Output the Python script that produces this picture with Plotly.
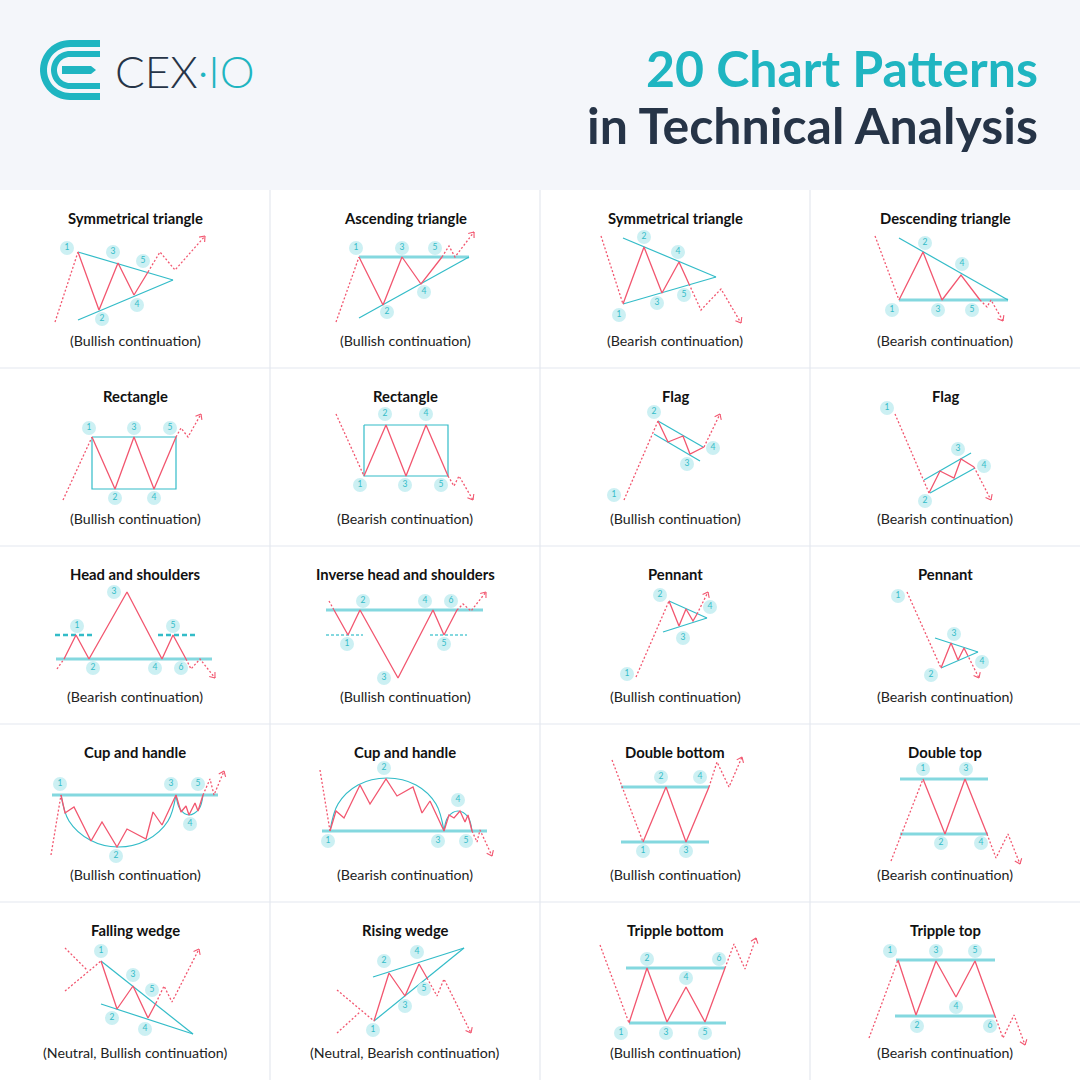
import numpy as np
import plotly.graph_objects as go

# colours
RED = "#f2566f"
CYAN = "#33bcc8"
CYAN_LIGHT = "#84d8df"
BUBBLE = "#ccf0f3"
TEAL = "#1fb5c1"
NAVY = "#263447"
GRID = "#e4e8ef"
HEADER_BG = "#f4f6fa"

W, H = 1080, 1080
HEADER_H = 190
CELL_W, CELL_H = 270, 178
FONT = "Lato"

TITLES = ["Symmetrical triangle", "Ascending triangle", "Symmetrical triangle", "Descending triangle",
          "Rectangle", "Rectangle", "Flag", "Flag",
          "Head and shoulders", "Inverse head and shoulders", "Pennant", "Pennant",
          "Cup and handle", "Cup and handle", "Double bottom", "Double top",
          "Falling wedge", "Rising wedge", "Tripple bottom", "Tripple top"]
CAPTIONS = ["(Bullish continuation)", "(Bullish continuation)", "(Bearish continuation)", "(Bearish continuation)",
            "(Bullish continuation)", "(Bearish continuation)", "(Bullish continuation)", "(Bearish continuation)",
            "(Bearish continuation)", "(Bullish continuation)", "(Bullish continuation)", "(Bearish continuation)",
            "(Bullish continuation)", "(Bearish continuation)", "(Bullish continuation)", "(Bearish continuation)",
            "(Neutral, Bullish continuation)", "(Neutral, Bearish continuation)", "(Bullish continuation)",
            "(Bearish continuation)"]

# --- pattern points, pixels inside each cell (0,0 = cell top-left) ---
# lead = dotted move in, zig = the pattern, tail = dotted breakout (arrow at end)
# thin = thin cyan guides, thick = wide pale cyan levels, dash = dashed levels, arcs = curved guides

# 1 symmetrical triangle (bullish)
P01_LEAD = [[(55, 132), (78, 62)]]
P01_ZIG = [(78, 62), (99, 120), (118, 73), (134, 105), (148, 82)]
P01_TAIL = [(148, 82), (160, 62), (175, 80), (205, 46)]
P01_THIN = [[(78, 62), (173, 90)], [(78, 130), (173, 90)]]
P01_LABELS = [("1", 67, 58), ("3", 113, 62), ("5", 143, 71), ("2", 102, 129), ("4", 137, 115)]

# 2 ascending triangle
P02_LEAD = [[(66, 132), (89, 67)]]
P02_ZIG = [(89, 67), (113, 115), (132, 67), (151, 94), (172, 67)]
P02_TAIL = [(172, 67), (179, 56), (185, 67), (204, 42)]
P02_THIN = [[(89, 128), (199, 67)]]
P02_THICK = [[(89, 67), (199, 67)]]
P02_LABELS = [("1", 86, 58), ("3", 132, 58), ("5", 165, 58), ("2", 117, 122), ("4", 154, 102)]

# 3 symmetrical triangle (bearish)
P03_LEAD = [[(61, 46), (83, 114)]]
P03_ZIG = [(83, 114), (104, 57), (122, 103), (139, 72), (149, 94)]
P03_TAIL = [(149, 94), (161, 120), (181, 99), (201, 133)]
P03_THIN = [[(83, 48), (176, 87)], [(83, 114), (176, 87)]]
P03_LABELS = [("2", 104, 47), ("4", 138, 62), ("3", 117, 113), ("5", 144, 105), ("1", 79, 125)]

# 4 descending triangle
P04_LEAD = [[(65, 46), (89, 110)]]
P04_ZIG = [(89, 110), (113, 62), (132, 110), (151, 85), (170, 110)]
P04_TAIL = [(170, 110), (177, 117), (181, 110), (193, 131)]
P04_THIN = [[(89, 48), (198, 110)]]
P04_THICK = [[(89, 110), (198, 110)]]
P04_LABELS = [("2", 115, 53), ("4", 152, 74), ("1", 82, 120), ("3", 128, 120), ("5", 162, 120)]

# 5 rectangle (bullish)
P05_LEAD = [[(63, 132), (92, 69)]]
P05_ZIG = [(92, 69), (115, 121), (134, 69), (154, 121), (176, 69)]
P05_TAIL = [(176, 69), (181, 60), (188, 69), (201, 46)]
P05_THIN = [[(92, 69), (176, 69), (176, 121), (92, 121), (92, 69)]]
P05_LABELS = [("1", 89, 60), ("3", 134, 60), ("5", 170, 60), ("2", 115, 130), ("4", 154, 130)]

# 6 rectangle (bearish)
P06_LEAD = [[(66, 46), (94, 108)]]
P06_ZIG = [(94, 108), (116, 57), (136, 108), (156, 57), (178, 108)]
P06_TAIL = [(178, 108), (184, 118), (189, 108), (203, 132)]
P06_THIN = [[(94, 57), (178, 57), (178, 108), (94, 108), (94, 57)]]
P06_LABELS = [("2", 115, 46), ("4", 156, 46), ("1", 90, 117), ("3", 135, 117), ("5", 171, 117)]

# 7 flag (bullish)
P07_LEAD = [[(84, 132), (118, 53)]]
P07_ZIG = [(118, 53), (128, 74), (143, 68), (150, 86), (164, 79)]
P07_TAIL = [(164, 79), (180, 46)]
P07_THIN = [[(118, 53), (163, 79)], [(114, 66), (160, 93)]]
P07_LABELS = [("2", 114, 44), ("4", 173, 80), ("3", 147, 96), ("1", 74, 127)]

# 8 flag (bearish)
P08_LEAD = [[(85, 46), (119, 125)]]
P08_ZIG = [(119, 125), (130, 103), (144, 110), (151, 91), (164, 99)]
P08_TAIL = [(164, 99), (181, 132)]
P08_THIN = [[(114, 112), (161, 85)], [(120, 125), (165, 100)]]
P08_LABELS = [("1", 77, 40), ("3", 148, 81), ("4", 174, 98), ("2", 115, 133)]

# 9 head and shoulders
P09_LEAD = [[(57, 123), (64, 113)]]
P09_ZIG = [(64, 113), (76, 89), (89, 113), (127, 46), (162, 113), (173, 89), (186, 113)]
P09_TAIL = [(186, 113), (191, 123), (200, 113), (215, 132)]
P09_THICK = [[(56, 113), (212, 113)]]
P09_DASH = [[(55, 89), (93, 89)], [(158, 89), (196, 89)]]
P09_LABELS = [("1", 77, 80), ("5", 173, 80), ("3", 114, 46), ("2", 93, 122), ("4", 155, 122), ("6", 181, 122)]

# 10 inverse head and shoulders
P10_LEAD = [[(59, 55), (64, 64)]]
P10_ZIG = [(64, 64), (78, 89), (90, 64), (128, 132), (163, 64), (174, 89), (187, 64)]
P10_TAIL = [(187, 64), (193, 58), (201, 65), (216, 46)]
P10_THICK = [[(56, 64), (213, 64)]]
P10_DOTS = [[(56, 89), (93, 89)], [(160, 89), (197, 89)]]
P10_LABELS = [("2", 93, 55), ("4", 155, 55), ("6", 181, 55), ("1", 77, 98), ("5", 174, 98), ("3", 114, 132)]

# 11 pennant (bullish)
P11_LEAD = [[(96, 131), (129, 55)]]
P11_ZIG = [(129, 55), (139, 80), (146, 63), (153, 75), (157, 68)]
P11_TAIL = [(157, 68), (168, 46)]
P11_THIN = [[(129, 55), (167, 72)], [(123, 86), (167, 72)]]
P11_LABELS = [("2", 120, 49), ("4", 170, 61), ("3", 143, 92), ("1", 87, 128)]

# 12 pennant (bearish)
P12_LEAD = [[(97, 46), (131, 122)]]
P12_ZIG = [(131, 122), (141, 97), (148, 114), (154, 102), (157, 108)]
P12_TAIL = [(157, 108), (169, 132)]
P12_THIN = [[(125, 92), (168, 106)], [(131, 122), (168, 106)]]
P12_LABELS = [("1", 88, 50), ("3", 144, 88), ("4", 172, 116), ("2", 121, 129)]

# 13 cup and handle (bullish)
P13_LEAD = [[(51, 131), (61, 71)]]
P13_ZIG = [(61, 71), (65, 89), (74, 83), (91, 117), (102, 98), (117, 123), (127, 105), (146, 115),
           (153, 88), (162, 101), (176, 71), (181, 88), (186, 82), (189, 91), (195, 79), (198, 87), (203, 71)]
P13_TAIL = [(203, 71), (210, 55), (214, 71), (224, 47)]
P13_THICK = [[(52, 71), (218, 71)]]
P13_ARCS = [[(61, 71), (69, 97), (90, 116), (118, 123), (147, 116), (168, 97), (176, 71)],
            [(176, 71), (180, 85), (189, 91), (199, 85), (203, 71)]]
P13_LABELS = [("1", 60, 60), ("3", 171, 60), ("5", 198, 60), ("4", 190, 100), ("2", 116, 132)]

# 14 cup and handle (bearish)
P14_LEAD = [[(50, 46), (60, 107)]]
P14_ZIG = [(60, 107), (66, 87), (74, 94), (90, 61), (100, 80), (116, 55), (127, 72), (143, 63),
           (152, 89), (160, 77), (174, 107), (179, 91), (184, 94), (190, 87), (195, 98), (198, 91), (202, 107)]
P14_TAIL = [(202, 107), (207, 118), (210, 106), (222, 132)]
P14_THICK = [[(52, 107), (217, 107)]]
P14_ARCS = [[(60, 107), (68, 80), (88, 61), (117, 54), (146, 61), (166, 80), (174, 107)],
            [(174, 107), (178, 93), (188, 87), (198, 93), (202, 107)]]
P14_LABELS = [("2", 114, 44), ("4", 188, 76), ("1", 58, 117), ("3", 168, 117), ("5", 196, 117)]

# 15 double bottom
P15_LEAD = [[(72, 36), (103, 118)]]
P15_ZIG = [(103, 118), (126, 63), (146, 118), (169, 63)]
P15_TAIL = [(169, 63), (177, 38), (189, 63), (202, 33)]
P15_THICK = [[(81, 63), (169, 63)], [(81, 118), (169, 118)]]
P15_LABELS = [("2", 121, 53), ("4", 160, 53), ("1", 103, 127), ("3", 146, 127)]

# 16 double top
P16_LEAD = [[(81, 137), (113, 55)]]
P16_ZIG = [(113, 55), (135, 110), (155, 55), (177, 110)]
P16_TAIL = [(177, 110), (186, 134), (198, 110), (210, 140)]
P16_THICK = [[(90, 55), (178, 55)], [(90, 110), (178, 110)]]
P16_LABELS = [("1", 113, 45), ("3", 156, 45), ("2", 131, 119), ("4", 171, 119)]

# 17 falling wedge
P17_LEAD = [[(65, 46), (87, 68)], [(65, 89), (101, 59)]]
P17_ZIG = [(101, 59), (117, 107), (133, 84), (148, 116), (156, 101)]
P17_TAIL = [(156, 101), (164, 84), (172, 100), (199, 47)]
P17_THIN = [[(101, 59), (193, 132)], [(101, 102), (193, 132)]]
P17_LABELS = [("1", 101, 49), ("3", 133, 73), ("5", 152, 88), ("2", 112, 116), ("4", 145, 127)]

# 18 rising wedge
P18_LEAD = [[(67, 88), (104, 119)], [(67, 131), (90, 110)]]
P18_ZIG = [(104, 119), (119, 71), (135, 94), (149, 62), (157, 76)]
P18_TAIL = [(157, 76), (167, 94), (174, 77), (201, 131)]
P18_THIN = [[(103, 75), (194, 46)], [(104, 119), (194, 46)]]
P18_LABELS = [("2", 114, 59), ("4", 147, 50), ("5", 154, 87), ("3", 135, 104), ("1", 103, 128)]

# 19 triple bottom
P19_LEAD = [[(60, 43), (89, 121)]]
P19_ZIG = [(89, 121), (107, 66), (127, 120), (146, 85), (165, 120), (185, 66)]
P19_TAIL = [(185, 66), (194, 42), (205, 67), (216, 36)]
P19_THICK = [[(86, 66), (185, 66)], [(89, 121), (186, 121)]]
P19_LABELS = [("2", 107, 57), ("6", 179, 57), ("4", 146, 76), ("1", 81, 131), ("3", 126, 131), ("5", 165, 131)]

# 20 triple top
P20_LEAD = [[(59, 136), (88, 58)]]
P20_ZIG = [(88, 58), (106, 113), (126, 59), (146, 95), (165, 59), (185, 114)]
P20_TAIL = [(185, 114), (193, 136), (204, 113), (215, 143)]
P20_THICK = [[(86, 58), (185, 58)], [(85, 114), (185, 114)]]
P20_LABELS = [("1", 80, 49), ("3", 126, 49), ("5", 165, 49), ("4", 146, 105), ("2", 107, 124), ("6", 180, 124)]

PATTERNS = [
    dict(lead=P01_LEAD, zig=P01_ZIG, tail=P01_TAIL, thin=P01_THIN, labels=P01_LABELS),
    dict(lead=P02_LEAD, zig=P02_ZIG, tail=P02_TAIL, thin=P02_THIN, thick=P02_THICK, labels=P02_LABELS),
    dict(lead=P03_LEAD, zig=P03_ZIG, tail=P03_TAIL, thin=P03_THIN, labels=P03_LABELS),
    dict(lead=P04_LEAD, zig=P04_ZIG, tail=P04_TAIL, thin=P04_THIN, thick=P04_THICK, labels=P04_LABELS),
    dict(lead=P05_LEAD, zig=P05_ZIG, tail=P05_TAIL, thin=P05_THIN, labels=P05_LABELS),
    dict(lead=P06_LEAD, zig=P06_ZIG, tail=P06_TAIL, thin=P06_THIN, labels=P06_LABELS),
    dict(lead=P07_LEAD, zig=P07_ZIG, tail=P07_TAIL, thin=P07_THIN, labels=P07_LABELS),
    dict(lead=P08_LEAD, zig=P08_ZIG, tail=P08_TAIL, thin=P08_THIN, labels=P08_LABELS),
    dict(lead=P09_LEAD, zig=P09_ZIG, tail=P09_TAIL, thick=P09_THICK, dash=P09_DASH, labels=P09_LABELS),
    dict(lead=P10_LEAD, zig=P10_ZIG, tail=P10_TAIL, thick=P10_THICK, dots=P10_DOTS, labels=P10_LABELS),
    dict(lead=P11_LEAD, zig=P11_ZIG, tail=P11_TAIL, thin=P11_THIN, labels=P11_LABELS),
    dict(lead=P12_LEAD, zig=P12_ZIG, tail=P12_TAIL, thin=P12_THIN, labels=P12_LABELS),
    dict(lead=P13_LEAD, zig=P13_ZIG, tail=P13_TAIL, thick=P13_THICK, arcs=P13_ARCS, labels=P13_LABELS),
    dict(lead=P14_LEAD, zig=P14_ZIG, tail=P14_TAIL, thick=P14_THICK, arcs=P14_ARCS, labels=P14_LABELS),
    dict(lead=P15_LEAD, zig=P15_ZIG, tail=P15_TAIL, thick=P15_THICK, labels=P15_LABELS),
    dict(lead=P16_LEAD, zig=P16_ZIG, tail=P16_TAIL, thick=P16_THICK, labels=P16_LABELS),
    dict(lead=P17_LEAD, zig=P17_ZIG, tail=P17_TAIL, thin=P17_THIN, labels=P17_LABELS),
    dict(lead=P18_LEAD, zig=P18_ZIG, tail=P18_TAIL, thin=P18_THIN, labels=P18_LABELS),
    dict(lead=P19_LEAD, zig=P19_ZIG, tail=P19_TAIL, thick=P19_THICK, labels=P19_LABELS),
    dict(lead=P20_LEAD, zig=P20_ZIG, tail=P20_TAIL, thick=P20_THICK, labels=P20_LABELS),
]


def lines_xy(lines):
    # several polylines -> one x/y list split by None
    xs, ys = [], []
    for line in lines:
        for x, y in line:
            xs.append(x)
            ys.append(y)
        xs.append(None)
        ys.append(None)
    return xs, ys


def arrow_head(tail, size=6.0, spread=np.radians(38)):
    (x0, y0), (x1, y1) = tail[-2], tail[-1]
    ang = np.arctan2(y1 - y0, x1 - x0)
    xs, ys = [], []
    for s in (spread, -spread):
        a = ang + np.pi + s
        xs += [x1 + size * np.cos(a), x1, None]
        ys += [y1 + size * np.sin(a), y1, None]
    return xs, ys


def c_band(cx, cy, r_out, r_in, x_end, n=30):
    # logo: C shaped band open to the right, ends run flat to x_end
    t = np.linspace(0, np.pi, n)
    outer = [(cx - r_out * np.sin(a), cy - r_out * np.cos(a)) for a in t]
    inner = [(cx - r_in * np.sin(a), cy - r_in * np.cos(a)) for a in t[::-1]]
    pts = [(x_end, cy - r_out)] + outer + [(x_end, cy + r_out), (x_end, cy + r_in)] + inner + [(x_end, cy - r_in)]
    return "M " + " L ".join(f"{x:.2f},{y:.2f}" for x, y in pts) + " Z"


fig = go.Figure()
layout_axes = {}
annotations = []
shapes = []

for i, pat in enumerate(PATTERNS):
    n = i + 1
    row, col = divmod(i, 4)
    sfx = "" if n == 1 else str(n)
    top = HEADER_H + row * CELL_H
    layout_axes[f"xaxis{sfx}"] = dict(domain=[col * CELL_W / W, (col + 1) * CELL_W / W], range=[0, CELL_W],
                                      visible=False, fixedrange=True, anchor=f"y{sfx}")
    layout_axes[f"yaxis{sfx}"] = dict(domain=[1 - (top + CELL_H) / H, 1 - top / H], range=[CELL_H, 0],
                                      visible=False, fixedrange=True, anchor=f"x{sfx}")
    xa, ya = f"x{sfx}", f"y{sfx}"

    def add(xs, ys, color, width, dash="solid", shape="linear"):
        fig.add_trace(go.Scatter(x=xs, y=ys, xaxis=xa, yaxis=ya, mode="lines", hoverinfo="skip",
                                 line=dict(color=color, width=width, dash=dash, shape=shape)))

    if "thick" in pat:
        add(*lines_xy(pat["thick"]), CYAN_LIGHT, 3)
    if "dots" in pat:
        add(*lines_xy(pat["dots"]), CYAN_LIGHT, 2, dash="3px,2px")
    if "dash" in pat:
        add(*lines_xy(pat["dash"]), CYAN, 2.5, dash="5px,3px")
    if "thin" in pat:
        add(*lines_xy(pat["thin"]), CYAN, 1.2)
    for arc in pat.get("arcs", []):
        add(*lines_xy([arc]), CYAN, 1.2, shape="spline")

    add(*lines_xy(pat["lead"]), RED, 1.3, dash="2px,2px")
    add(*lines_xy([pat["zig"]]), RED, 1.3)
    add(*lines_xy([pat["tail"]]), RED, 1.3, dash="2px,2px")
    add(*arrow_head(pat["tail"]), RED, 1.1)

    labels = pat["labels"]
    fig.add_trace(go.Scatter(
        x=[p[1] for p in labels], y=[p[2] for p in labels], text=[p[0] for p in labels],
        xaxis=xa, yaxis=ya, mode="markers+text", hoverinfo="skip", textposition="middle center",
        marker=dict(size=14, color=BUBBLE, line=dict(width=0)),
        textfont=dict(size=8.5, color=CYAN, family=FONT)))

    annotations.append(dict(x=CELL_W / 2, y=28, xref=xa, yref=ya, text=f"<b>{TITLES[i]}</b>", showarrow=False,
                            font=dict(size=14.8, color="#111111", family=FONT)))
    annotations.append(dict(x=CELL_W / 2, y=150, xref=xa, yref=ya, text=CAPTIONS[i], showarrow=False,
                            font=dict(size=14.2, color="#222222", family=FONT)))

# header axis in pixel units
layout_axes["xaxis21"] = dict(domain=[0, 1], range=[0, W], visible=False, fixedrange=True, anchor="y21")
layout_axes["yaxis21"] = dict(domain=[1 - HEADER_H / H, 1], range=[HEADER_H, 0], visible=False,
                              fixedrange=True, anchor="x21")
fig.add_trace(go.Scatter(x=[0], y=[0], xaxis="x21", yaxis="y21", mode="markers",
                         marker=dict(size=1, opacity=0), hoverinfo="skip"))

# header background and grid
shapes.append(dict(type="rect", xref="paper", yref="paper", x0=0, x1=1, y0=1 - HEADER_H / H, y1=1,
                   fillcolor=HEADER_BG, line_width=0, layer="below"))
for c in range(1, 4):
    shapes.append(dict(type="line", xref="paper", yref="paper", x0=c * CELL_W / W, x1=c * CELL_W / W,
                       y0=0, y1=1 - HEADER_H / H, line=dict(color=GRID, width=1.2), layer="below"))
for r in range(1, 5):
    yy = 1 - (HEADER_H + r * CELL_H) / H
    shapes.append(dict(type="line", xref="paper", yref="paper", x0=0, x1=1, y0=yy, y1=yy,
                       line=dict(color=GRID, width=1.2), layer="below"))

# logo icon
shapes.append(dict(type="path", xref="x21", yref="y21", path=c_band(70, 70, 30, 23, 100),
                   fillcolor=TEAL, line_width=0))
shapes.append(dict(type="path", xref="x21", yref="y21", path=c_band(70, 70, 19, 13, 100),
                   fillcolor=TEAL, line_width=0))
shapes.append(dict(type="path", xref="x21", yref="y21",
                   path="M 62,66 L 91,66 L 96,70 L 91,74 L 62,74 Z", fillcolor=TEAL, line_width=0))

annotations.append(dict(x=113, y=71, xref="x21", yref="y21", xanchor="left", showarrow=False,
                        text=f"CEX<span style='color:{TEAL}'>·IO</span>",
                        font=dict(size=44, color=NAVY, family=FONT, weight=300)))
annotations.append(dict(x=1040, y=68, xref="x21", yref="y21", xanchor="right", showarrow=False,
                        text="<b>20 Chart Patterns</b>", font=dict(size=50, color=TEAL, family=FONT)))
annotations.append(dict(x=1040, y=125, xref="x21", yref="y21", xanchor="right", showarrow=False,
                        text="<b>in Technical Analysis</b>", font=dict(size=50, color=NAVY, family=FONT)))

fig.update_layout(
    width=W, height=H,
    margin=dict(l=0, r=0, t=0, b=0),
    paper_bgcolor="white", plot_bgcolor="rgba(0,0,0,0)",
    showlegend=False,
    shapes=shapes, annotations=annotations,
    **layout_axes,
)

# page body margin would push the figure 8px off the window edge
fig.write_html("out.html", config={"displayModeBar": False},
               post_script="document.body.style.margin='0px';")
